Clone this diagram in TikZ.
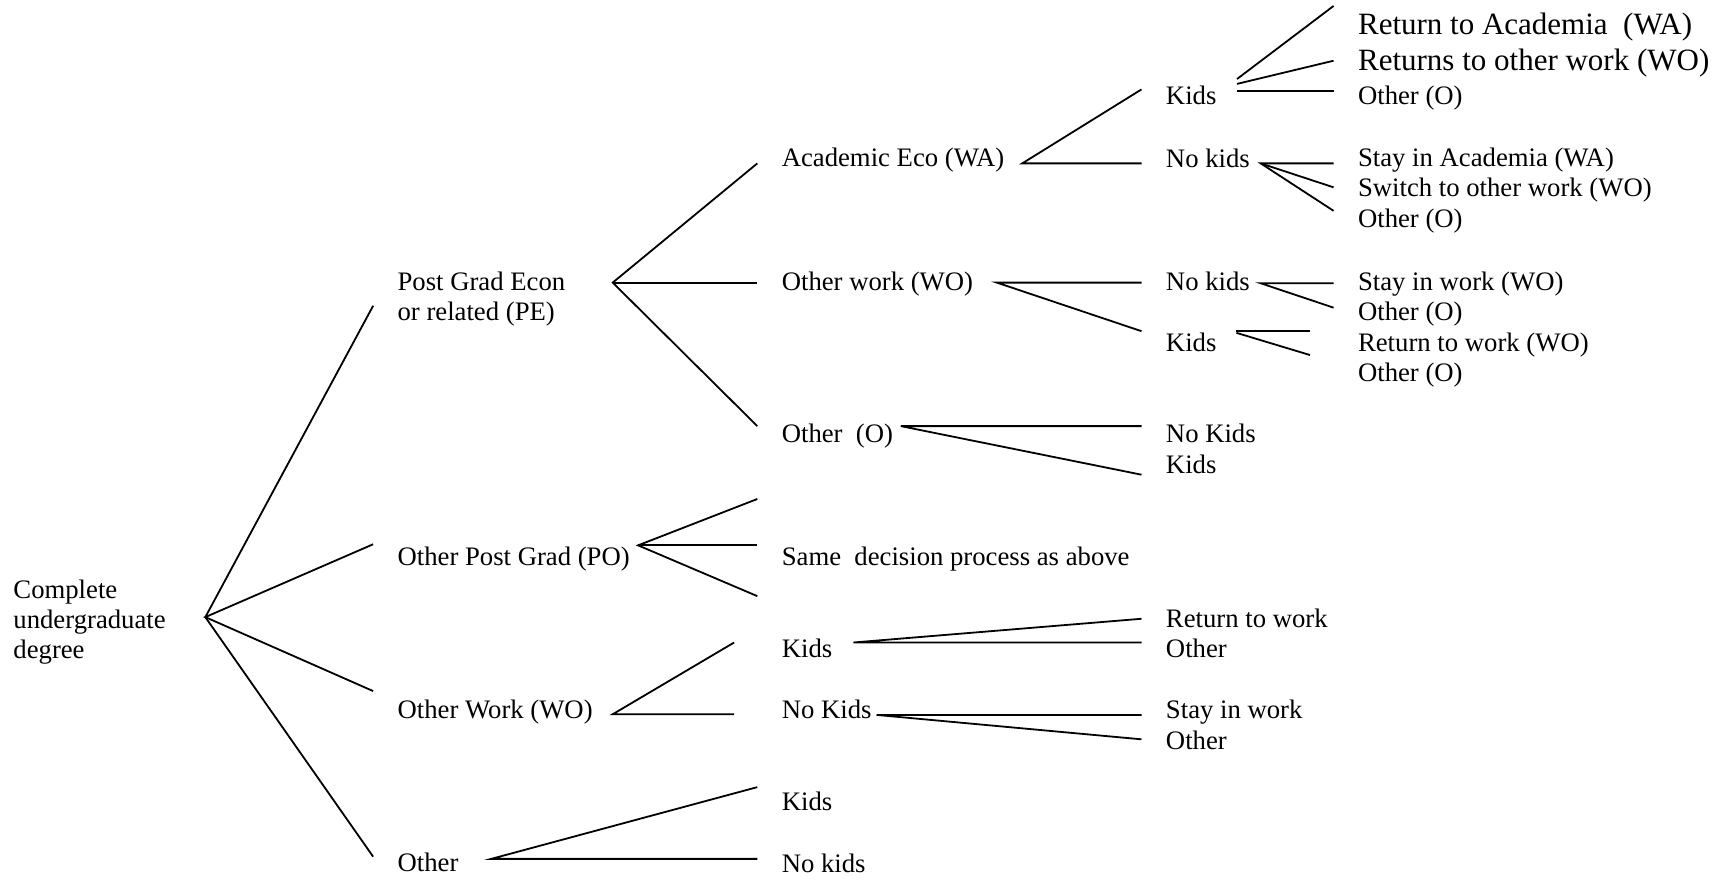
\documentclass[tikz,border=0pt]{standalone}
\usepackage{fontspec}
\setmainfont{Liberation Serif}
\begin{document}
\begin{tikzpicture}[x=1.104pt,y=-1.104pt,
  lbl/.style={inner sep=0pt, anchor=base west, yshift=-2.2pt, font=\fontsize{26.7}{30}\selectfont},
  mlbl/.style={inner sep=0pt, anchor=north west, align=left, yshift=-2.2pt, font=\fontsize{26.7}{30}\selectfont},
  big/.style={inner sep=0pt, anchor=base west, font=\fontsize{31}{34}\selectfont},
  br/.style={line width=1.8pt}]
\useasboundingbox (0,0) rectangle (1568,796);

% ---- labels ----
\node[mlbl] (root) at (12,523.5) {Complete\\undergraduate\\degree};
\node[mlbl] (pe) at (360,244.5) {Post Grad Econ\\or related (PE)};
\node[lbl] (po) at (360,510) {Other Post Grad (PO)};
\node[lbl] (wo) at (360,649) {Other Work (WO)};
\node[lbl] (ot) at (360,787) {Other};

\node[lbl] (ae) at (708,149) {Academic Eco (WA)};
\node[lbl] (ow) at (708,261) {Other work (WO)};
\node[lbl] (oo) at (708,399) {Other\ \ (O)};
\node[lbl] (same) at (708,510) {Same\ \ decision process as above};
\node[lbl] (wk) at (708,594) {Kids};
\node[lbl] (wn) at (708,649) {No Kids};
\node[lbl] (ok) at (708,732) {Kids};
\node[lbl] (on) at (708,788) {No kids};

\node[lbl] (k1) at (1056,93) {Kids};
\node[lbl] (n1) at (1056,149.5) {No kids};
\node[lbl] (n2) at (1056,261) {No kids};
\node[lbl] (k2) at (1056,316) {Kids};
\node[lbl] (n3) at (1056,399) {No Kids};
\node[lbl] (k3) at (1056,427) {Kids};
\node[lbl] (wkr) at (1056,566) {Return to work};
\node[lbl] (wko) at (1056,594) {Other};
\node[lbl] (wns) at (1056,649) {Stay in work};
\node[lbl] (wno) at (1056,677) {Other};

\node[big] (k1a) at (1230,31) {Return to Academia\ \ (WA)};
\node[big] (k1w) at (1230,64) {Returns to other work (WO)};
\node[lbl] (k1o) at (1230,93) {Other (O)};
\node[lbl] (n1a) at (1230,149) {Stay in Academia (WA)};
\node[lbl] (n1w) at (1230,176) {Switch to other work (WO)};
\node[lbl] (n1o) at (1230,204) {Other (O)};
\node[lbl] (n2w) at (1230,261) {Stay in work (WO)};
\node[lbl] (n2o) at (1230,288) {Other (O)};
\node[lbl] (k2w) at (1230,316) {Return to work (WO)};
\node[lbl] (k2o) at (1230,344) {Other (O)};

% ---- branch points ----
\coordinate (v0) at (186,559);
\coordinate (e1) at (338,277);
\coordinate (e2) at (338,493);
\coordinate (e3) at (338,626);
\coordinate (e4) at (338,776);

\coordinate (vpe) at (555,256);
\coordinate (pe1) at (686,148);
\coordinate (pe2) at (686,256);
\coordinate (pe3) at (686,386);

\coordinate (vpo) at (578,494);
\coordinate (po1) at (686,452);
\coordinate (po2) at (686,494);
\coordinate (po3) at (686,540);

\coordinate (vwo) at (555,647);
\coordinate (wo1) at (665,582);
\coordinate (wo2) at (665,647);

\coordinate (vot) at (445,778);
\coordinate (ot1) at (686,713);
\coordinate (ot2) at (686,778);

\coordinate (vae) at (926,148);
\coordinate (ae1) at (1034,81);
\coordinate (ae2) at (1034,148);

\coordinate (vow) at (903,256);
\coordinate (ow1) at (1034,256);
\coordinate (ow2) at (1034,300);

\coordinate (voo) at (816,386);
\coordinate (oo1) at (1034,386);
\coordinate (oo2) at (1034,430);

\coordinate (vwk) at (773,582);
\coordinate (wk1) at (1034,560.5);
\coordinate (wk2) at (1034,582);

\coordinate (vwn) at (794,647.6);
\coordinate (wn1) at (1034,647.6);
\coordinate (wn2) at (1034,669.7);

\coordinate (vk1a) at (1120.5,71.6);
\coordinate (vk1b) at (1120.5,76);
\coordinate (vk1c) at (1120.5,82.4);
\coordinate (k1e1) at (1208,5.4);
\coordinate (k1e2) at (1208,55);
\coordinate (k1e3) at (1208,82.4);

\coordinate (vn1) at (1142,148);
\coordinate (n1e1) at (1208,148);
\coordinate (n1e2) at (1208,169.7);
\coordinate (n1e3) at (1208,191);

\coordinate (vn2) at (1142,256.6);
\coordinate (n2e1) at (1208,256.6);
\coordinate (n2e2) at (1208,278.7);

\coordinate (vk2a) at (1120,299.8);
\coordinate (vk2b) at (1120,301.5);
\coordinate (k2e1) at (1186.6,299.8);
\coordinate (k2e2) at (1186.6,321.6);

% ---- connectors ----
\draw[br] (e1) -- (v0) -- (e4);
\draw[br] (e2) -- (v0) -- (e3);

\draw[br] (pe1) -- (vpe) -- (pe3);
\draw[br] (vpe) -- (pe2);
\draw[br] (po1) -- (vpo) -- (po3);
\draw[br] (vpo) -- (po2);
\draw[br] (wo1) -- (vwo) -- (wo2);
\draw[br] (ot1) -- (vot) -- (ot2);

\draw[br] (ae1) -- (vae) -- (ae2);
\draw[br] (ow1) -- (vow) -- (ow2);
\draw[br] (oo1) -- (voo) -- (oo2);
\draw[br] (wk1) -- (vwk) -- (wk2);
\draw[br] (wn1) -- (vwn) -- (wn2);

\draw[br] (vk1a) -- (k1e1);
\draw[br] (vk1b) -- (k1e2);
\draw[br] (vk1c) -- (k1e3);
\draw[br] (n1e1) -- (vn1) -- (n1e3);
\draw[br] (vn1) -- (n1e2);
\draw[br] (n2e1) -- (vn2) -- (n2e2);
\draw[br] (vk2a) -- (k2e1);
\draw[br] (vk2b) -- (k2e2);
\end{tikzpicture}
\end{document}
